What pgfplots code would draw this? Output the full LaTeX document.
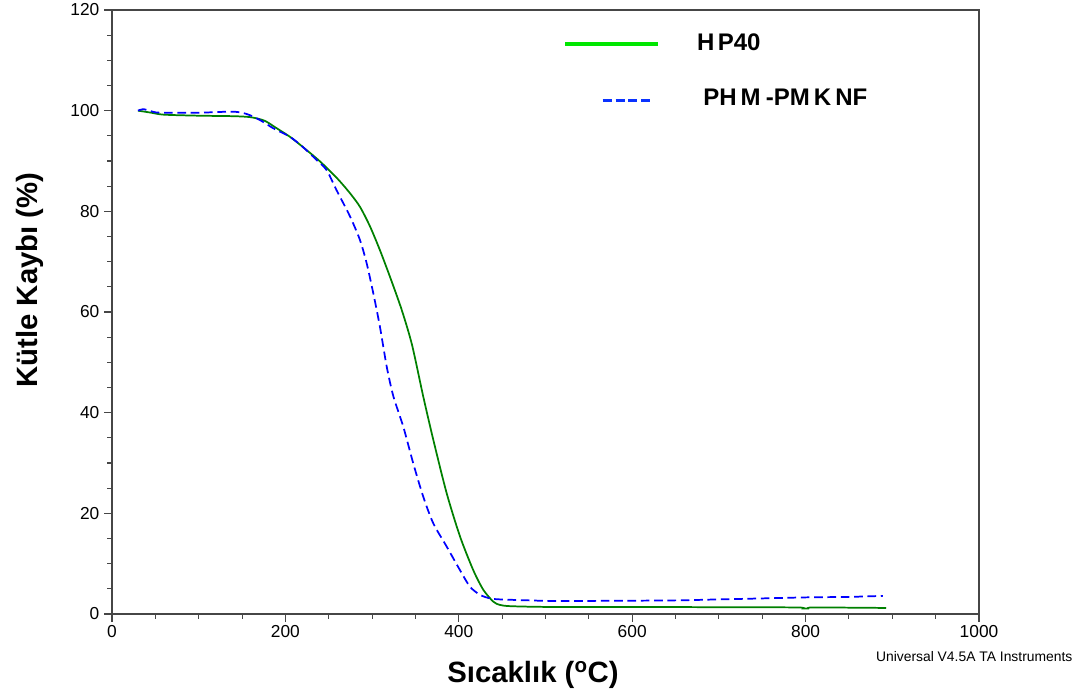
\documentclass[border=0pt]{standalone}
\usepackage{pgfplots}
\pgfplotsset{compat=1.18}
\usepackage{fontspec}
\setmainfont{Liberation Sans}
\definecolor{curvegreen}{RGB}{0,128,0}
\definecolor{leggreen}{RGB}{0,230,0}
\definecolor{curveblue}{RGB}{0,0,255}
\definecolor{legblue}{RGB}{10,50,255}
\definecolor{axgray}{RGB}{70,70,70}
\begin{document}
\begin{tikzpicture}
\path[use as bounding box] (-84pt,-63pt) rectangle (731.25pt,460.5pt);
\begin{axis}[
  at={(0pt,0pt)}, anchor=south west,
  scale only axis, width=650.25pt, height=453pt,
  xmin=0, xmax=1000, ymin=0, ymax=120,
  xtick={0,200,...,1000}, ytick={0,20,...,120},
  minor x tick num=3, minor y tick num=3,
  tick pos=left, tick align=outside,
  major tick length=6pt, minor tick length=3.5pt,
  every tick/.style={axgray, line width=0.8pt},
  axis line style={axgray, line width=1.2pt},
  /pgf/number format/assume math mode=true,
  /pgf/number format/1000 sep={},
  ticklabel style={font=\fontsize{13}{15}\selectfont},
  xticklabel style={yshift=1pt},
  yticklabel style={xshift=0pt},
  xlabel={\textbf{Sıcaklık (\textsuperscript{o}C)}},
  ylabel={\textbf{Kütle Kaybı (\%)}},
  label style={font=\fontsize{22}{25}\selectfont},
  xlabel style={at={(rel axis cs:0.4856,-0.101)}, anchor=center},
  ylabel style={at={(rel axis cs:-0.0946,0.553)}, anchor=center},
  clip=false,
]
\addplot[curvegreen, line width=1.3pt, smooth, tension=0.45] coordinates {
(30,100) (45,99.6) (60,99.2) (100,99.0) (140,98.9) (160,98.7) (176,98.0)
(190,96.5) (205.3,94.8) (220,92.8) (240,89.9) (260,86.5) (274.5,83.6)
(286,80.9) (297.6,77) (309,72.3) (320.6,67) (334,60.5) (346,53.5)
(359,43.2) (370.6,34.6) (386,24) (401.4,15.4) (416.7,8.7) (428.3,4.8)
(439.8,2.45) (447.5,1.8) (460,1.55) (505,1.4) (600,1.4) (700,1.35)
(790,1.3) (797,1.1) (803,1.1) (810,1.3) (893,1.2)
};
\addplot[curveblue, line width=1.3pt, dash pattern=on 6.5pt off 3.5pt, smooth, tension=0.45] coordinates {
(30,100) (36,100.3) (45,99.9) (55,99.6) (101,99.6) (140,99.8) (156,99.3)
(171,98.1) (186,96.5) (205.3,94.8) (220,92.8) (236,90.2) (247.5,88.2)
(259,84.2) (274.5,79) (286,74.3) (293.7,69.7) (301.4,63.7) (309,57.1)
(316.9,49.1) (324.6,43.2) (336,37.2) (347.5,29.9) (359,23.3) (370.6,18)
(386,13.4) (401.4,8.7) (413,5.4) (424.5,3.8) (436,3.1) (447.5,2.9)
(482,2.7) (505,2.6) (550,2.6) (647,2.7) (700,2.9) (751,3.1) (800,3.3)
(850,3.4) (889,3.6)
};
% legend
\draw[leggreen, line width=3pt] (axis cs:522.5,113.25) -- (axis cs:629.8,113.25);
\node[anchor=west, font=\fontsize{18}{20}\selectfont\bfseries, inner sep=0pt] at (axis cs:674.7,113.6) {H\kern2.5pt P40};
\draw[legblue, line width=2.2pt, dash pattern=on 6.8pt off 2.8pt] (axis cs:566,102.1) -- (axis cs:620.5,102.1);
\node[anchor=west, font=\fontsize{18}{20}\selectfont\bfseries, inner sep=0pt] at (axis cs:681.7,102.6) {PH\kern3pt M\kern4pt -PM\kern3pt K\kern3pt NF};
\node[anchor=east, font=\fontsize{10.4}{12}\selectfont, inner sep=0pt] at (rel axis cs:1.108,-0.071) {Universal V4.5A TA Instruments};
\end{axis}
\end{tikzpicture}
\end{document}
